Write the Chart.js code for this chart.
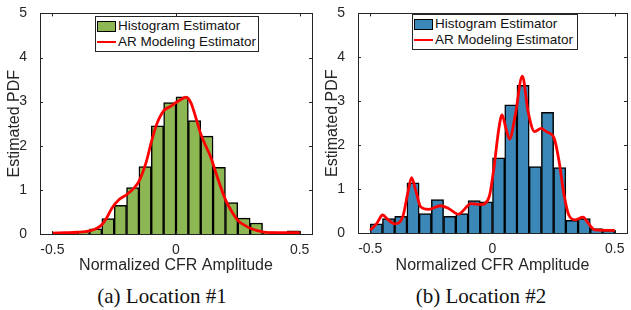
<!DOCTYPE html>
<html>
<head>
<meta charset="utf-8">
<script src="https://cdn.jsdelivr.net/npm/chart.js@4.4.1/dist/chart.umd.min.js"></script>
<style>
    body { margin: 0; background: #fff; }
    #fig { position: relative; width: 631px; height: 310px; overflow: hidden; }
    .panel { position: absolute; top: 0; width: 316px; height: 280px; }
    .caption { position: absolute; font-family: 'Liberation Serif', 'Times New Roman', serif; font-size: 21px; color: #111; white-space: nowrap; transform: translate(-50%, -50%); }
    .legend { position: absolute; border: 1px solid #262626; background: #fff; font-family: 'Liberation Sans', Arial, sans-serif; font-size: 13.5px; color: #111; padding: 1px 1px 1px 1px; }
    .legend div { height: 16px; line-height: 16px; white-space: nowrap; display: flex; align-items: center; }
    .legend .sw { display: inline-block; width: 19px; margin-right: 2px; box-sizing: border-box; }
</style>
</head>
<body>
<div id="fig">
    <div class="panel" style="left:0"><canvas id="c1"></canvas></div>
    <div class="panel" style="left:318px"><canvas id="c2"></canvas></div>
    <div class="legend" id="leg1" style="left:95px; top:16px; width:160px"></div>
    <div class="legend" id="leg2" style="left:412px; top:14px; width:162px"></div>
    <div class="caption" style="left:162px; top:296px">(a) Location #1</div>
    <div class="caption" style="left:481px; top:296px">(b) Location #2</div>
</div>
<script>
'use strict';

/* global Chart */

// centres des classes de l'histogramme (largeur 0.05)
const binCenters = [-0.475, -0.425, -0.375, -0.325, -0.275, -0.225, -0.175, -0.125, -0.075, -0.025,
    0.025, 0.075, 0.125, 0.175, 0.225, 0.275, 0.325, 0.375, 0.425, 0.475];

// Location #1
const hist1 = [0.01, 0.01, 0.03, 0.12, 0.35, 0.65, 1.05, 1.53, 2.45, 2.98,
    3.11, 2.57, 2.22, 1.51, 0.71, 0.36, 0.25, 0.05, 0.03, 0.07];
const ar1X = [-0.5, -0.45, -0.4, -0.35, -0.32, -0.3, -0.28, -0.26, -0.23, -0.2, -0.17, -0.15, -0.12, -0.1, -0.08,
    -0.05, -0.02, 0, 0.02, 0.04, 0.06, 0.08, 0.1, 0.12, 0.14, 0.16, 0.18, 0.2, 0.22, 0.25, 0.28, 0.3, 0.35, 0.4, 0.5];
const ar1Y = [0.02, 0.03, 0.04, 0.07, 0.13, 0.21, 0.37, 0.58, 0.78, 0.89, 1.04, 1.19, 1.64, 2.08, 2.46,
    2.79, 2.9, 2.98, 3.05, 3.1, 2.98, 2.64, 2.27, 2.0, 1.75, 1.41, 1.08, 0.78, 0.56, 0.31, 0.19, 0.13, 0.05, 0.03, 0.03];

// Location #2
const hist2 = [0.21, 0.33, 0.38, 1.14, 0.44, 0.76, 0.38, 0.44, 0.74, 0.71,
    1.71, 2.92, 3.36, 1.51, 2.75, 1.49, 0.29, 0.33, 0.1, 0.05];
const ar2X = [-0.5, -0.473, -0.449, -0.427, -0.399, -0.367, -0.347, -0.331, -0.314, -0.294, -0.26, -0.214, -0.18,
    -0.14, -0.087, -0.047, -0.014, 0.006, 0.026, 0.039, 0.055, 0.07, 0.093, 0.122, 0.146, 0.172, 0.199, 0.219,
    0.252, 0.272, 0.292, 0.312, 0.339, 0.37, 0.392, 0.419, 0.5];
const ar2Y = [0.06, 0.22, 0.41, 0.3, 0.21, 0.37, 0.89, 1.26, 0.97, 0.6, 0.54, 0.62, 0.56,
    0.43, 0.67, 0.65, 0.82, 1.49, 2.38, 2.69, 2.38, 2.14, 2.68, 3.57, 2.75, 2.31, 2.38, 2.31,
    2.16, 1.64, 0.89, 0.41, 0.30, 0.36, 0.22, 0.07, 0.06];

const xTicks = [-0.5, 0, 0.5];
const yTicks = [0, 1, 2, 3, 4, 5];

Chart.defaults.font.family = '"Liberation Sans", Arial, sans-serif';
Chart.defaults.color = '#262626';

// cadre + graduations vers l'intérieur (style matlab)
const cadre = {
    id: 'cadre',
    afterDatasetsDraw(chart) {
        const ctx = chart.ctx;
        const a = chart.chartArea;
        const sx = chart.scales.x;
        const sy = chart.scales.y;
        ctx.save();
        ctx.strokeStyle = '#262626';
        ctx.lineWidth = 1;
        ctx.strokeRect(Math.round(a.left) + 0.5, Math.round(a.top) + 0.5,
            Math.round(a.right - a.left), Math.round(a.bottom - a.top));
        ctx.beginPath();
        sx.ticks.forEach(t => {
            const px = Math.round(sx.getPixelForValue(t.value)) + 0.5;
            ctx.moveTo(px, a.bottom); ctx.lineTo(px, a.bottom - 3);
            ctx.moveTo(px, a.top); ctx.lineTo(px, a.top + 3);
        });
        sy.ticks.forEach(t => {
            const py = Math.round(sy.getPixelForValue(t.value)) + 0.5;
            ctx.moveTo(a.left, py); ctx.lineTo(a.left + 3, py);
            ctx.moveTo(a.right, py); ctx.lineTo(a.right - 3, py);
        });
        ctx.stroke();
        ctx.restore();
    }
};

function faireGraphique(id, hist, arX, arY, couleur, padTop) {
    const ctx = document.getElementById(id).getContext('2d');
    return new Chart(ctx, {
        data: {
            datasets: [
                {
                    type: 'bar',
                    label: 'Histogram Estimator',
                    data: binCenters.map((c, i) => ({ x: c, y: hist[i] })),
                    backgroundColor: couleur,
                    borderColor: '#000',
                    borderWidth: 1.5,
                    barPercentage: 1,
                    categoryPercentage: 1,
                    order: 2
                },
                {
                    type: 'line',
                    label: 'AR Modeling Estimator',
                    data: arX.map((v, i) => ({ x: v, y: arY[i] })),
                    borderColor: '#ff0000',
                    borderWidth: 2.8,
                    pointRadius: 0,
                    cubicInterpolationMode: 'monotone',
                    order: 1
                }
            ]
        },
        options: {
            responsive: false,
            animation: false,
            layout: { padding: { top: padTop, right: 4, left: 0, bottom: 0 } },
            plugins: { legend: { display: false }, tooltip: { enabled: false } },
            scales: {
                x: {
                    type: 'linear',
                    min: -0.55,
                    max: 0.55,
                    offset: false,
                    afterBuildTicks: s => { s.ticks = xTicks.map(v => ({ value: v })); },
                    afterFit: s => { s.height = 280 - 224 - padTop; },
                    grid: { display: false },
                    border: { display: false },
                    ticks: { font: { size: 14 }, padding: 0, maxRotation: 0, callback: v => String(v) },
                    title: { display: true, text: 'Normalized CFR Amplitude', font: { size: 16 }, padding: { top: 0, bottom: 5 } }
                },
                y: {
                    min: 0,
                    max: 5,
                    afterBuildTicks: s => { s.ticks = yTicks.map(v => ({ value: v })); },
                    afterFit: s => { s.width = 40; },
                    grid: { display: false },
                    border: { display: false },
                    ticks: { font: { size: 14 }, padding: 5, callback: v => String(v) },
                    title: { display: true, text: 'Estimated PDF', font: { size: 16 }, padding: { top: 5, bottom: 0 } }
                }
            }
        },
        plugins: [cadre]
    });
}

function faireLegende(chart, el) {
    chart.data.datasets.forEach(ds => {
        const ligne = document.createElement('div');
        const sw = document.createElement('span');
        sw.className = 'sw';
        if (ds.type === 'bar') {
            sw.style.height = '11px';
            sw.style.background = ds.backgroundColor;
            sw.style.border = '1.5px solid #000';
        } else {
            sw.style.height = '2.5px';
            sw.style.background = ds.borderColor;
        }
        ligne.appendChild(sw);
        ligne.appendChild(document.createTextNode(ds.label));
        el.appendChild(ligne);
    });
}

document.getElementById('c1').width = 316;
document.getElementById('c1').height = 280;
document.getElementById('c2').width = 313;
document.getElementById('c2').height = 280;

const g1 = faireGraphique('c1', hist1, ar1X, ar1Y, '#8cb752', 10);
const g2 = faireGraphique('c2', hist2, ar2X, ar2Y, '#3a87b8', 9);
faireLegende(g1, document.getElementById('leg1'));
faireLegende(g2, document.getElementById('leg2'));
</script>
</body>
</html>
